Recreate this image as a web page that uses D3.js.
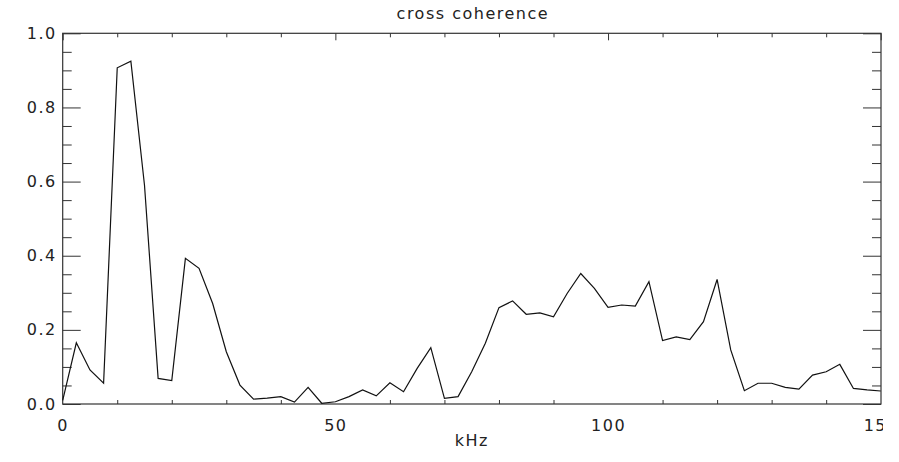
<!DOCTYPE html>
<html>
<head>
<meta charset="utf-8">
<script src="https://cdn.jsdelivr.net/npm/d3@7"></script>
<style>
  html, body { margin: 0; padding: 0; background: #fff; }
  svg { display: block; }
  text { font-family: "DejaVu Sans", sans-serif; font-size: 16px; fill: #222; letter-spacing: 1.5px; }
</style>
</head>
<body>
<svg id="chart" width="899" height="462"></svg>
<script>
// Frequency grid (kHz), 2.5 kHz spacing
const freqKHz = [
  0, 2.5, 5, 7.5, 10, 12.5, 15, 17.5, 20, 22.5,
  25, 27.5, 30, 32.5, 35, 37.5, 40, 42.5, 45, 47.5,
  50, 52.5, 55, 57.5, 60, 62.5, 65, 67.5, 70, 72.5,
  75, 77.5, 80, 82.5, 85, 87.5, 90, 92.5, 95, 97.5,
  100, 102.5, 105, 107.5, 110, 112.5, 115, 117.5, 120, 122.5,
  125, 127.5, 130, 132.5, 135, 137.5, 140, 142.5, 145, 147.5, 150
];

// Cross coherence at each frequency
const coherence = [
  0.01, 0.165, 0.092, 0.056, 0.907, 0.925, 0.59, 0.069, 0.063, 0.393,
  0.366, 0.271, 0.141, 0.051, 0.013, 0.016, 0.02, 0.005, 0.045, 0.002,
  0.006, 0.02, 0.038, 0.022, 0.057, 0.033, 0.096, 0.152, 0.015, 0.02,
  0.087, 0.164, 0.26, 0.278, 0.242, 0.246, 0.235, 0.298, 0.352, 0.312,
  0.261, 0.267, 0.264, 0.33, 0.171, 0.181, 0.174, 0.222, 0.336, 0.146,
  0.036, 0.056, 0.056, 0.045, 0.04, 0.078, 0.087, 0.107, 0.042, 0.038, 0.035
];

// Axis ticks
const xMajorTicks = [0, 50, 100, 150];
const xMinorTicks = [10, 20, 30, 40, 60, 70, 80, 90, 110, 120, 130, 140];
const yMajorTicks = [0, 0.2, 0.4, 0.6, 0.8, 1.0];
const yMinorTicks = [0.05, 0.1, 0.15, 0.25, 0.3, 0.35, 0.45, 0.5, 0.55, 0.65, 0.7, 0.75, 0.85, 0.9, 0.95];

const titleText = "cross coherence";
const xLabelText = "kHz";

const svg = d3.select("#chart");
const plotLeft = 62.7, plotRight = 881, plotTop = 33.3, plotBottom = 404;

const x = d3.scaleLinear().domain([0, 150]).range([plotLeft, plotRight - 0.3]);
const y = d3.scaleLinear().domain([0, 1]).range([plotBottom, plotTop]);

const axisColor = "#333";

function styleAxis(g) {
  g.select(".domain").remove();
  g.selectAll(".tick line").attr("stroke", axisColor).attr("stroke-width", 1);
}

// Frame
svg.append("rect")
  .attr("x", plotLeft).attr("y", plotTop)
  .attr("width", plotRight - plotLeft).attr("height", plotBottom - plotTop)
  .attr("fill", "none").attr("stroke", axisColor).attr("stroke-width", 1.2);

// Left axis: labelled majors and minors pointing inward
svg.append("g").attr("transform", `translate(${plotLeft},0)`)
  .call(d3.axisLeft(y).tickValues(yMajorTicks).tickSize(-18).tickPadding(6).tickFormat(d3.format(".1f")))
  .call(styleAxis)
  .call(g => g.selectAll("text").attr("fill", "#222").attr("font-size", null).attr("font-family", null));
svg.append("g").attr("transform", `translate(${plotLeft},0)`)
  .call(d3.axisLeft(y).tickValues(yMinorTicks).tickSize(-9).tickFormat(""))
  .call(styleAxis);

// Right axis
svg.append("g").attr("transform", `translate(${plotRight},0)`)
  .call(d3.axisRight(y).tickValues(yMajorTicks).tickSize(-18).tickFormat(""))
  .call(styleAxis);
svg.append("g").attr("transform", `translate(${plotRight},0)`)
  .call(d3.axisRight(y).tickValues(yMinorTicks).tickSize(-9).tickFormat(""))
  .call(styleAxis);

// Bottom axis, labels clipped at the frame edge
svg.append("defs").append("clipPath").attr("id", "xlab-clip")
  .append("rect").attr("x", 0).attr("y", 0).attr("width", 883).attr("height", 462);

svg.append("g").attr("transform", `translate(0,${plotBottom})`)
  .attr("clip-path", "url(#xlab-clip)")
  .call(d3.axisBottom(x).tickValues(xMajorTicks).tickSize(-7).tickFormat(d3.format("d")))
  .call(styleAxis)
  .call(g => g.selectAll("text").attr("y", 27).attr("dy", null)
    .attr("fill", "#222").attr("font-size", null).attr("font-family", null));
svg.append("g").attr("transform", `translate(0,${plotBottom})`)
  .call(d3.axisBottom(x).tickValues(xMinorTicks).tickSize(-4).tickFormat(""))
  .call(styleAxis);

// Top axis
svg.append("g").attr("transform", `translate(0,${plotTop})`)
  .call(d3.axisTop(x).tickValues(xMajorTicks).tickSize(-7).tickFormat(""))
  .call(styleAxis);
svg.append("g").attr("transform", `translate(0,${plotTop})`)
  .call(d3.axisTop(x).tickValues(xMinorTicks).tickSize(-4).tickFormat(""))
  .call(styleAxis);

// Coherence curve
const line = d3.line()
  .x((d, i) => x(freqKHz[i]))
  .y(d => y(d));

svg.append("path")
  .datum(coherence)
  .attr("fill", "none")
  .attr("stroke", "#111")
  .attr("stroke-width", 1.2)
  .attr("stroke-linejoin", "miter")
  .attr("d", line);

// Title and axis label
svg.append("text")
  .attr("x", (plotLeft + plotRight) / 2 + 1).attr("y", 19)
  .attr("text-anchor", "middle")
  .text(titleText);

svg.append("text")
  .attr("x", (plotLeft + plotRight) / 2).attr("y", 446)
  .attr("text-anchor", "middle")
  .attr("font-size", "15px")
  .text(xLabelText);
</script>
</body>
</html>
